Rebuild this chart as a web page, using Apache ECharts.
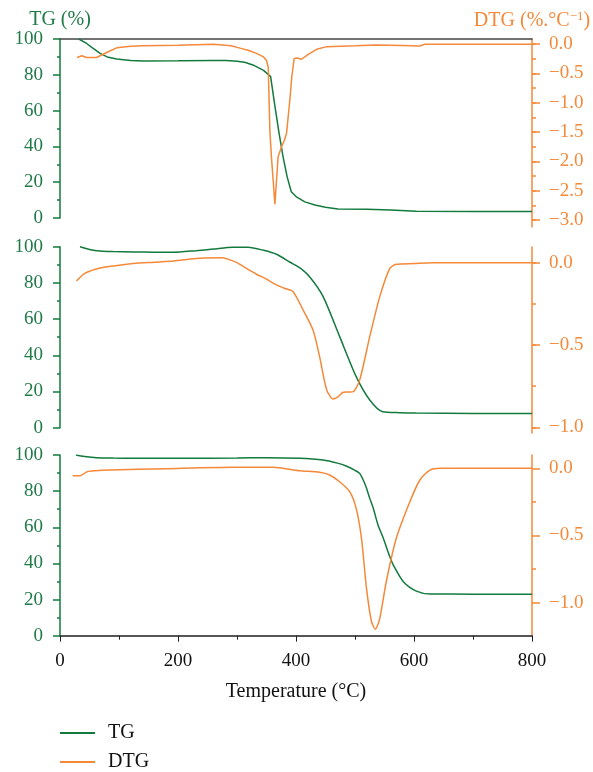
<!DOCTYPE html>
<html>
<head>
<meta charset="utf-8">
<script src="https://cdn.jsdelivr.net/npm/echarts@6/dist/echarts.min.js"></script>
<style>
  html, body { margin: 0; padding: 0; background: #fff; }
  #chart { width: 593px; height: 772px; }
</style>
</head>
<body>
<div id="chart"></div>
<script>
// sample 1 (top panel)
var tg1Temp = [32, 45, 55, 68, 80, 96, 120, 141, 200, 260, 282, 300, 313, 327, 345, 357, 364, 371, 378, 385, 392, 400, 415, 432, 450, 471, 520, 560, 604, 700, 800]
var tg1 = [100, 97.5, 95, 92, 90, 88.8, 88, 87.7, 87.8, 88, 88, 87.6, 87, 85.5, 82.5, 79, 63, 48, 34.3, 23, 14.7, 12, 9, 7.3, 6, 5, 4.9, 4.5, 3.8, 3.6, 3.6]
var dtg1Temp = [29, 37, 45, 62, 80, 96, 120, 141, 200, 260, 290, 305, 320, 333, 345, 350, 353, 355.7, 358.5, 361.3, 364.2, 366.5, 369.7, 375.5, 380, 384, 389.6, 393, 396.9, 402, 409.4, 420, 435, 452, 500, 536, 580, 610, 618, 700, 800]
var dtg1 = [-0.23, -0.2, -0.23, -0.23, -0.14, -0.065, -0.04, -0.03, -0.02, -0.005, -0.03, -0.07, -0.11, -0.16, -0.22, -0.28, -0.4, -1.47, -1.95, -2.32, -2.73, -2.4, -1.92, -1.75, -1.65, -1.52, -0.95, -0.55, -0.245, -0.24, -0.26, -0.18, -0.09, -0.045, -0.03, -0.017, -0.025, -0.034, -0.005, -0.005, -0.005]

// sample 2 (middle panel)
var tg2Temp = [34, 50, 68, 90, 124, 160, 192, 230, 260, 293, 319, 345, 367, 390, 406, 423, 446, 474, 502, 525, 547, 576, 604, 700, 800]
var tg2 = [100, 98.5, 97.6, 97.3, 97.1, 97, 96.9, 97.8, 98.7, 99.7, 99.7, 98, 95.8, 91.4, 88.4, 83.4, 72.4, 50.3, 28.2, 15.3, 8.8, 8.3, 8.1, 7.9, 7.9]
var dtg2Temp = [28, 42, 60, 79, 100, 124, 160, 192, 243, 274, 299, 316, 333, 350, 367, 380, 395, 412, 429, 440, 452, 463, 471, 480, 490, 497, 508, 525, 542, 559, 570, 600, 632, 700, 800]
var dtg2 = [-0.111, -0.065, -0.04, -0.025, -0.015, -0.005, 0.003, 0.01, 0.029, 0.03, 0.002, -0.035, -0.07, -0.1, -0.135, -0.155, -0.176, -0.287, -0.41, -0.571, -0.773, -0.828, -0.815, -0.787, -0.785, -0.783, -0.712, -0.449, -0.206, -0.034, -0.01, -0.005, 0, 0, 0]

// sample 3 (bottom panel)
var tg3Temp = [27, 45, 62, 90, 124, 200, 300, 350, 406, 446, 470, 485, 500, 508, 518, 525, 531, 539, 548, 559, 565, 582, 604, 627, 700, 800]
var tg3 = [100, 99, 98.5, 98.3, 98.2, 98.2, 98.3, 98.5, 98.2, 97.2, 95.5, 93.9, 91.5, 89.8, 83, 76, 70.5, 61.3, 53.9, 43.7, 39.1, 29.9, 24.7, 23.1, 23, 23]
var dtg3Temp = [21.5, 34, 46, 60, 85, 181, 293, 361, 406, 440, 457, 474, 491, 502, 511, 519.5, 528, 534.6, 542, 553, 570, 593, 610, 627, 644, 700, 800]
var dtg3 = [-0.055, -0.055, -0.025, -0.018, -0.013, -0.003, 0.007, 0.007, -0.018, -0.03, -0.05, -0.1, -0.174, -0.298, -0.521, -0.894, -1.142, -1.197, -1.117, -0.844, -0.521, -0.249, -0.087, -0.013, 0, 0, 0]

var tgLabels = [0, 20, 40, 60, 80, 100]
var dtgLabels1 = [0, -0.5, -1, -1.5, -2, -2.5, -3]
var dtgLabels2 = [0, -0.5, -1]

var GREEN = '#137a3e'
var GREEN_TEXT = '#1f7b48'
var ORANGE = '#f5893a'
var FONT = 'Liberation Serif'

function zip(xs, ys) {
  return xs.map(function(x, i) { return [x, ys[i]] })
}

function quarters(labels) {
  var out = []
  var lo = Math.min.apply(null, labels)
  for (var v = 0; v >= lo - 1e-9; v -= 0.25) out.push(+v.toFixed(2))
  return out
}

function fmtDtg(v) {
  return (v < 0 ? '\u2212' : '') + Math.abs(v).toFixed(1)
}

// 0,2,4: TG grids; 1,3,5: DTG grids; 6,7,8: copies of DTG grids for the long ticks
var panelBoxes = [
  { top: 39, height: 179 },
  { top: 39, height: 188 },
  { top: 246.7, height: 181 },
  { top: 247, height: 186 },
  { top: 455, height: 180.7 },
  { top: 455, height: 181.7 }
]
panelBoxes.push(panelBoxes[1], panelBoxes[3], panelBoxes[5])
var grids = panelBoxes.map(function(b) {
  return { left: 60, right: 61, top: b.top, height: b.height, outerBoundsMode: 'none' }
})

var xAxes = grids.map(function(g, i) {
  return { type: 'value', gridIndex: i, min: 0, max: 800, show: false, splitLine: { show: false } }
})
// top frame line of first panel
xAxes[0] = {
  type: 'value', gridIndex: 0, min: 0, max: 800, position: 'top',
  axisLine: { show: true, onZero: false, lineStyle: { color: '#444', width: 1.5 } },
  axisTick: { show: false }, axisLabel: { show: false }, splitLine: { show: false }
}
// shared temperature axis at the bottom
xAxes[4] = {
  type: 'value', gridIndex: 4, min: 0, max: 800, interval: 200,
  name: 'Temperature (\u00b0C)', nameLocation: 'middle', nameGap: 46,
  nameTextStyle: { color: '#111', fontFamily: FONT, fontSize: 20 },
  axisLine: { show: true, onZero: false, lineStyle: { color: '#555', width: 2 } },
  axisTick: { show: true, length: 6, lineStyle: { color: '#222' } },
  minorTick: { show: true, splitNumber: 2, length: 4, lineStyle: { color: '#222' } },
  axisLabel: { color: '#111', fontFamily: FONT, fontSize: 19, margin: 16 },
  splitLine: { show: false }, minorSplitLine: { show: false }
}

function tgAxis(grid, withName) {
  var ax = {
    type: 'value', gridIndex: grid, position: 'left', min: 0, max: 100, interval: 20,
    axisLine: { show: true, onZero: false, lineStyle: { color: GREEN, width: 1.5 } },
    axisTick: { show: true, length: 7, lineStyle: { color: GREEN, width: 1.5 } },
    minorTick: { show: true, splitNumber: 2, length: 3, lineStyle: { color: GREEN, width: 1.5 } },
    axisLabel: { color: GREEN_TEXT, fontFamily: FONT, fontSize: 19, margin: 17 },
    splitLine: { show: false }, minorSplitLine: { show: false }
  }
  if (withName) {
    ax.name = 'TG (%)'
    ax.nameLocation = 'end'
    ax.nameGap = 8
    ax.nameTextStyle = { color: GREEN_TEXT, fontFamily: FONT, fontSize: 20, align: 'center' }
  }
  return ax
}

function dtgAxis(grid, min, max, labels, withName) {
  var ax = {
    type: 'value', gridIndex: grid, position: 'right', min: min, max: max,
    axisLine: { show: true, onZero: false, lineStyle: { color: ORANGE, width: 1.5 } },
    axisTick: { show: true, length: 4, customValues: quarters(labels), lineStyle: { color: ORANGE, width: 1.5 } },
    axisLabel: { color: ORANGE, fontFamily: FONT, fontSize: 19, margin: 17, customValues: labels, formatter: fmtDtg },
    splitLine: { show: false }
  }
  if (withName) {
    ax.name = 'DTG (%.\u00b0C{sup|\u22121})'
    ax.nameLocation = 'end'
    ax.nameGap = 8
    ax.nameTextStyle = {
      color: ORANGE, fontFamily: FONT, fontSize: 20, align: 'center',
      rich: { sup: { color: ORANGE, fontFamily: FONT, fontSize: 13, verticalAlign: 'top', padding: [0, 0, 8, 0] } }
    }
  }
  return ax
}

function majorTicks(grid, min, max, labels) {
  return {
    type: 'value', gridIndex: grid, position: 'right', min: min, max: max,
    axisLine: { show: false, onZero: false },
    axisTick: { show: true, length: 8, customValues: labels, lineStyle: { color: ORANGE, width: 1.5 } },
    axisLabel: { show: false, customValues: labels },
    splitLine: { show: false }
  }
}

var yAxes = [
  tgAxis(0, true),
  dtgAxis(1, -3.119, 0.0852, dtgLabels1, true),
  tgAxis(2, false),
  dtgAxis(3, -1.0346, 0.0954, dtgLabels2, false),
  tgAxis(4, false),
  dtgAxis(5, -1.253, 0.099, dtgLabels2, false),
  majorTicks(6, -3.119, 0.0852, dtgLabels1),
  majorTicks(7, -1.0346, 0.0954, dtgLabels2),
  majorTicks(8, -1.253, 0.099, dtgLabels2)
]

function line(name, xi, yi, data, color, smooth) {
  return {
    name: name, type: 'line', xAxisIndex: xi, yAxisIndex: yi,
    data: data, showSymbol: false, symbol: 'none',
    smooth: smooth,
    lineStyle: { color: color, width: 1.5 },
    itemStyle: { color: color }
  }
}

function legendRow(name, top) {
  return {
    data: [name], left: 60, top: top, padding: 0,
    itemWidth: 35, itemHeight: 2, icon: 'rect',
    textStyle: { color: '#111', fontFamily: FONT, fontSize: 20, padding: [0, 0, 0, 8] }
  }
}

var chart = echarts.init(document.getElementById('chart'))
chart.setOption({
  animation: false,
  backgroundColor: '#fff',
  grid: grids,
  xAxis: xAxes,
  yAxis: yAxes,
  legend: [legendRow('TG', 723), legendRow('DTG', 752)],
  series: [
    line('TG', 0, 0, zip(tg1Temp, tg1), GREEN, false),
    line('DTG', 1, 1, zip(dtg1Temp, dtg1), ORANGE, false),
    line('TG', 2, 2, zip(tg2Temp, tg2), GREEN, 0.25),
    line('DTG', 3, 3, zip(dtg2Temp, dtg2), ORANGE, 0.25),
    line('TG', 4, 4, zip(tg3Temp, tg3), GREEN, 0.25),
    line('DTG', 5, 5, zip(dtg3Temp, dtg3), ORANGE, 0.25)
  ]
})
</script>
</body>
</html>
